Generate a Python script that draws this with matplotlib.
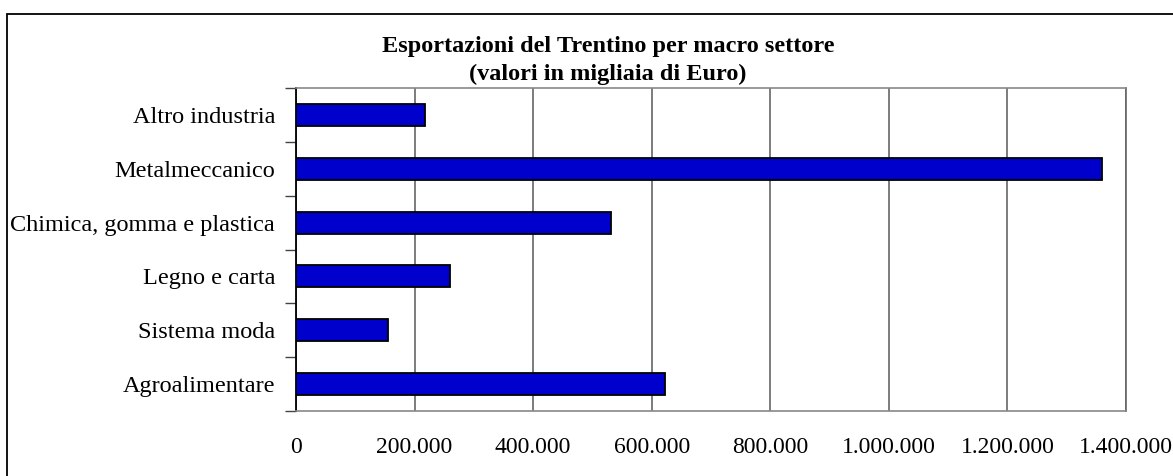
import numpy as np
import matplotlib.pyplot as plt
from matplotlib.patches import Rectangle
from matplotlib.ticker import FuncFormatter

plt.rcParams['font.family'] = ['Liberation Serif', 'DejaVu Serif']

categories = ['Agroalimentare', 'Sistema moda', 'Legno e carta',
              'Chimica, gomma e plastica', 'Metalmeccanico', 'Altro industria']
values = [622000, 155000, 260000, 531000, 1360000, 217000]
x_ticks = [0, 200000, 400000, 600000, 800000, 1000000, 1200000, 1400000]

title_lines = ['Esportazioni del Trentino per macro settore',
               '(valori in migliaia di Euro)']


def dotted(v, pos):
    return '{:,}'.format(int(v)).replace(',', '.')


fig = plt.figure(figsize=(11.73, 4.76), dpi=100)
W, H = 1173, 476
ax = fig.add_axes([296 / W, (H - 411) / H, (1126 - 296) / W, (411 - 88) / H])

y = np.arange(len(categories))
ax.barh(y, values, height=0.41, color='#0000cc', edgecolor='black',
        linewidth=1.3, zorder=3)

ax.set_xlim(0, 1400000)
ax.set_ylim(-0.5, len(categories) - 0.5)
ax.set_xticks(x_ticks)
ax.xaxis.set_major_formatter(FuncFormatter(dotted))
ax.set_yticks(y)
ax.set_yticklabels(categories)
ax.set_yticks(np.arange(-0.5, len(categories)), minor=True)

ax.tick_params(axis='x', length=0, pad=19, labelsize=17)
ax.tick_params(axis='y', which='major', length=0, pad=15, labelsize=17.5)
ax.tick_params(axis='y', which='minor', length=8, width=1, color='#444444')

ax.grid(axis='x', color='#666666', linewidth=1.2, zorder=0)
ax.set_axisbelow(True)

for side in ['top', 'bottom', 'right']:
    ax.spines[side].set_color('#888888')
    ax.spines[side].set_linewidth(1.2)
ax.spines['right'].set_color('#666666')
ax.spines['left'].set_color('black')
ax.spines['left'].set_linewidth(1.3)

# two title lines placed by baseline, like the original
fig.text(608 / W, 1 - 52 / H, title_lines[0], ha='center', va='baseline',
         fontsize=17.5, fontweight='bold')
fig.text(608 / W, 1 - 80 / H, title_lines[1], ha='center', va='baseline',
         fontsize=17.5, fontweight='bold')

# outer chart frame, runs off the right and bottom edge
frame = Rectangle((7 / W, -0.05), 1.05, 1 - 14 / H + 0.05,
                  transform=fig.transFigure, fill=False,
                  edgecolor='black', linewidth=1.3, clip_on=False)
fig.patches.append(frame)

fig.savefig('out.png', dpi=100)
